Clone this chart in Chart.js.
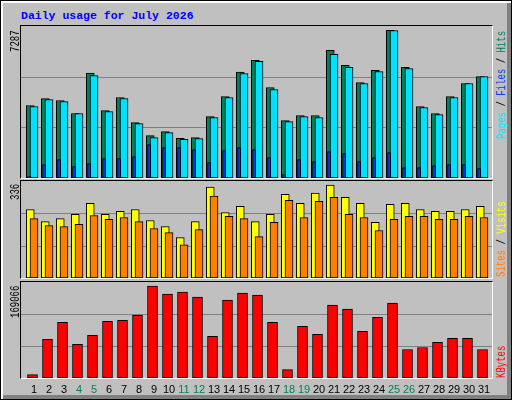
<!DOCTYPE html>
<html>
<head>
<meta charset="utf-8">
<script src="https://cdn.jsdelivr.net/npm/chart.js@4/dist/chart.umd.min.js"></script>
<style>
  body { margin: 0; background: #c0c0c0; }
  #frame { position: absolute; left: 0; top: 0; width: 510px; height: 398px; background: #c0c0c0;
    border: 1px solid #000; box-shadow: inset 2px 2px 0 #fff, inset -4px -4px 0 #808080; overflow: hidden; }
  .plot { position: absolute; border-top: 1px solid #000; border-left: 1px solid #000;
    border-right: 1px solid #fff; border-bottom: 1px solid #fff; }
  canvas { position: absolute; }
  .title { position: absolute; left: 20px; top: 8px; font: bold 11.5px "Liberation Mono", monospace; color: #0000ff; }
  .vlab { position: absolute; transform-origin: 0 0; transform: rotate(-90deg) scaleX(0.75); white-space: nowrap;
    font: 12px/12px "Liberation Mono", monospace; }
</style>
</head>
<body>
<div id="frame">
  <div class="title">Daily usage for July 2026</div>
  <div class="plot" style="left:19px;top:24px;width:471px;height:152px"></div>
  <div class="plot" style="left:19px;top:179px;width:471px;height:97px"></div>
  <div class="plot" style="left:19px;top:280px;width:471px;height:96px"></div>
  <canvas id="top" width="471" height="152" style="left:20px;top:25px"></canvas>
  <canvas id="mid" width="471" height="97" style="left:20px;top:180px"></canvas>
  <canvas id="bot" width="471" height="116" style="left:20px;top:281px"></canvas>
  <div class="vlab" style="left:9px;top:51px;color:#000">7287</div>
  <div class="vlab" style="left:9px;top:199px;color:#000">336</div>
  <div class="vlab" style="left:9px;top:317px;color:#000">169066</div>
  <div class="vlab" style="left:495px;top:138px"><span style="color:#00e0ff">Pages</span><span style="color:#000"> / </span><span style="color:#0040ff">Files</span><span style="color:#000"> / </span><span style="color:#00805c">Hits</span></div>
  <div class="vlab" style="left:495px;top:276px"><span style="color:#ff8000">Sites</span><span style="color:#000"> / </span><span style="color:#ffff00">Visits</span></div>
  <div class="vlab" style="left:495px;top:377px;color:#ff0000">KBytes</div>
</div>
<script>
const days = Array.from({ length: 31 }, (_, i) => i + 1);
const weekendDays = [4, 5, 11, 12, 18, 19, 25, 26];
const hits = [3576, 3922, 3823, 3181, 5175, 3329, 3971, 2736, 2093, 2291, 1961, 1994, 3032, 4021, 5224, 5801,
  4466, 2835, 3082, 3082, 6295, 5554, 4713, 5307, 7287, 5455, 3527, 3181, 4021, 4664, 5010];
const pages = [3527, 3873, 3774, 3181, 5059, 3280, 3922, 2686, 1994, 2241, 1912, 1945, 2983, 3971, 5158, 5752,
  4367, 2785, 3032, 2983, 6098, 5455, 4664, 5257, 7280, 5405, 3477, 3131, 3971, 4664, 5010];
const files = [66, 659, 906, 560, 709, 956, 956, 1055, 1648, 1500, 1500, 1401, 758, 1351, 1500, 1401,
  1005, 165, 906, 807, 1302, 1203, 807, 1005, 1252, 511, 511, 610, 659, 659, 461];
const visits = [248, 204, 215, 230, 270, 230, 241, 248, 208, 186, 146, 204, 329, 237, 259, 204,
  230, 303, 270, 307, 336, 292, 270, 201, 267, 270, 248, 241, 241, 248, 259];
const sites = [215, 190, 186, 194, 226, 212, 219, 204, 179, 164, 120, 175, 296, 223, 215, 150,
  201, 281, 219, 277, 292, 230, 219, 172, 212, 223, 223, 212, 212, 223, 219];
const kbytes = [6170, 70955, 102422, 61700, 78359, 104273, 106124, 115379, 169066, 154250, 157952, 148697,
  76508, 143144, 156101, 152399, 102422, 15425, 95018, 80210, 133889, 126485, 85763, 111677, 137591,
  52445, 56147, 65402, 72806, 72806, 52445];

const pts = (vals, shift) => vals.map((v, i) => ({ x: days[i] + shift, y: v }));

const bar = (vals, shift, color, width, order) => ({
  data: pts(vals, shift),
  backgroundColor: color,
  borderColor: "#000",
  borderWidth: 1,
  borderSkipped: false,
  barThickness: width,
  grouped: false,
  order,
});

// grey horizontal grid lines at the y ticks
const gridPlugin = {
  id: "grid",
  beforeDatasetsDraw(chart) {
    const { ctx, chartArea, scales } = chart;
    ctx.save();
    ctx.strokeStyle = "#808080";
    ctx.lineWidth = 1;
    scales.y.ticks.forEach((t) => {
      if (t.value <= 0 || t.value >= scales.y.max) return;
      const y = Math.round(scales.y.getPixelForValue(t.value)) + 0.5;
      ctx.beginPath();
      ctx.moveTo(chartArea.left, y);
      ctx.lineTo(chartArea.right, y);
      ctx.stroke();
    });
    ctx.restore();
  },
};

// day labels under the bottom panel
const dayLabels = {
  id: "dayLabels",
  afterDraw(chart) {
    const { ctx, chartArea, scales } = chart;
    ctx.save();
    ctx.font = "11px 'Liberation Sans'";
    ctx.textAlign = "center";
    ctx.textBaseline = "middle";
    days.forEach((d) => {
      ctx.fillStyle = weekendDays.includes(d) ? "#00805c" : "#000";
      ctx.fillText(String(d), scales.x.getPixelForValue(d), chartArea.bottom + 12);
    });
    ctx.restore();
  },
};

const makeChart = (id, datasets, yMax, step, plugins, bottomPad) =>
  new Chart(document.getElementById(id), {
    type: "bar",
    data: { datasets },
    options: {
      responsive: false,
      animation: false,
      devicePixelRatio: 1,
      layout: { padding: { left: 0, right: 0, top: 0, bottom: bottomPad || 0 } },
      plugins: { legend: { display: false }, tooltip: { enabled: false } },
      scales: {
        x: { type: "linear", min: 0.133, max: 31.533, offset: false, display: false },
        y: { min: 0, max: yMax, ticks: { stepSize: step }, display: false },
      },
    },
    plugins: [gridPlugin].concat(plugins || []),
  });

makeChart("top", [
  bar(hits, -0.25, "#00805c", 8, 3),
  bar(pages, 0, "#00e0ff", 8, 2),
  bar(files, -0.33, "#0040ff", 3, 1),
], 7500, 2500);

makeChart("mid", [
  bar(visits, -0.25, "#ffff00", 8, 2),
  bar(sites, 0, "#ff8000", 8, 1),
], 351, 117);

makeChart("bot", [
  bar(kbytes, -0.1, "#ff0000", 10, 1),
], 176500, 58833, [dayLabels], 20);
</script>
</body>
</html>
